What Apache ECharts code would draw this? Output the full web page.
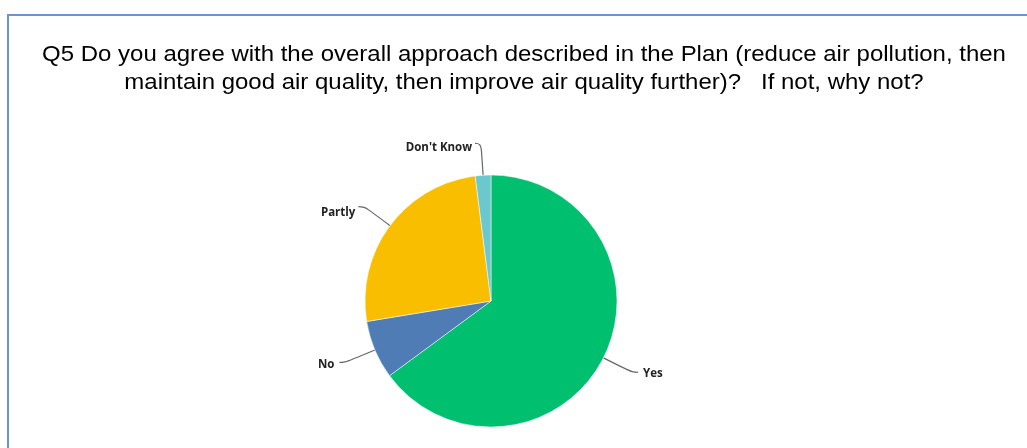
<!DOCTYPE html>
<html>
<head>
<meta charset="utf-8">
<script src="https://cdn.jsdelivr.net/npm/echarts@6/dist/echarts.min.js"></script>
<style>
html,body{margin:0;padding:0;background:#fff;}
#c{width:1027px;height:448px;}
</style>
</head>
<body>
<div id="c"></div>
<script>
const titleLines = [
  "Q5 Do you agree with the overall approach described in the Plan (reduce air pollution, then",
  "maintain good air quality, then improve air quality further)?   If not, why not?"
];
const categories = ["Yes", "No", "Partly", "Don't Know"];
const values = [64.9, 7.5, 25.6, 2.0];
const colors = ["#00bf6f", "#507cb6", "#f9be00", "#6bc8cd"];
const labelShift = [[0, 1], [0, 2], [2, 6], [2, 4]];

const chart = echarts.init(document.getElementById('c'));
chart.setOption({
  animation: false,
  graphic: [
    {
      type: 'polyline',
      shape: { points: [[8, 460], [8, 15], [1040, 15]] },
      style: { stroke: '#6a95d0', lineWidth: 2, fill: null }
    },
    ...titleLines.map((t, i) => ({
      type: 'text',
      x: 524,
      y: 55 + i * 28,
      scaleX: 1.09,
      style: {
        text: t,
        font: 'normal 22px "Liberation Sans"',
        fill: '#000',
        align: 'center',
        verticalAlign: 'middle'
      }
    }))
  ],
  series: [{
    type: 'pie',
    center: [491, 301],
    radius: 126,
    startAngle: 90,
    clockwise: true,
    avoidLabelOverlap: false,
    data: categories.map((c, i) => ({ name: c, value: values[i], itemStyle: { color: colors[i] } })),
    itemStyle: { borderColor: '#fff', borderWidth: 0.5 },
    label: {
      show: true,
      position: 'outside',
      formatter: '{b}',
      fontFamily: 'Open Sans',
      fontWeight: 'bold',
      fontSize: 11.5,
      color: '#222'
    },
    labelLine: {
      show: true,
      length: 32,
      length2: 6,
      smooth: 0.5,
      lineStyle: { color: '#666', width: 1.2 }
    },
    labelLayout: function (p) {
      const s = labelShift[p.dataIndex];
      return { dx: s[0], dy: s[1] };
    }
  }]
});
</script>
</body>
</html>
